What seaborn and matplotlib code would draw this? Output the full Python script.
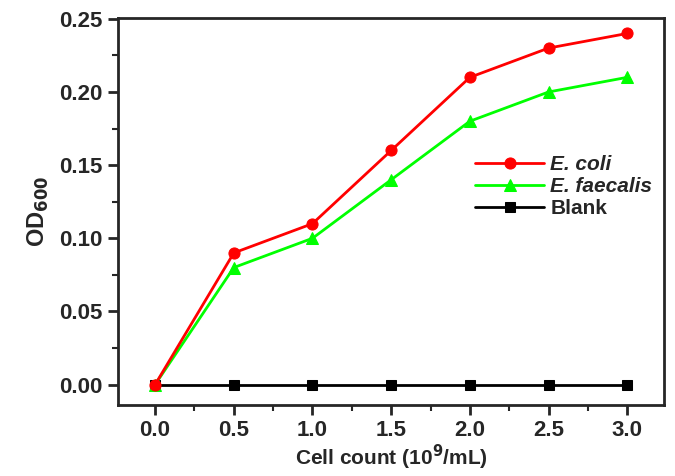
import matplotlib
matplotlib.use("Agg")
import matplotlib.pyplot as plt
import seaborn as sns
from matplotlib.ticker import MultipleLocator, FormatStrFormatter

# data
cell_count = [0.0, 0.5, 1.0, 1.5, 2.0, 2.5, 3.0]
e_coli = [0.0, 0.09, 0.11, 0.16, 0.21, 0.23, 0.24]
e_faecalis = [0.0, 0.08, 0.10, 0.14, 0.18, 0.20, 0.21]
blank = [0.0, 0.0, 0.0, 0.0, 0.0, 0.0, 0.0]

sns.set_style("ticks")
plt.rcParams['font.family'] = ['Liberation Sans', 'DejaVu Sans']
plt.rcParams['font.weight'] = 'bold'
plt.rcParams['mathtext.default'] = 'bf'

fig = plt.figure(figsize=(6.75, 4.76), dpi=100)
ax = fig.add_axes([0.175, 0.149, 0.809, 0.813])

sns.lineplot(x=cell_count, y=blank, ax=ax, color='black', marker='s', markersize=7,
             markeredgecolor='black', linewidth=2, label='Blank', zorder=2)
sns.lineplot(x=cell_count, y=e_faecalis, ax=ax, color='#00ff00', marker='^', markersize=9,
             markeredgecolor='#00ff00', linewidth=2, label='E. faecalis', zorder=3)
sns.lineplot(x=cell_count, y=e_coli, ax=ax, color='#ff0000', marker='o', markersize=8,
             markeredgecolor='#ff0000', linewidth=2, label='E. coli', zorder=4)

ax.set_xlim(-0.235, 3.235)
ax.set_ylim(-0.014, 0.2505)
ax.xaxis.set_major_locator(MultipleLocator(0.5))
ax.xaxis.set_minor_locator(MultipleLocator(0.25))
ax.yaxis.set_major_locator(MultipleLocator(0.05))
ax.yaxis.set_minor_locator(MultipleLocator(0.025))
ax.xaxis.set_major_formatter(FormatStrFormatter('%.1f'))
ax.yaxis.set_major_formatter(FormatStrFormatter('%.2f'))

for s in ax.spines.values():
    s.set_linewidth(2)
    s.set_visible(True)
ax.tick_params(which='major', length=7, width=2, labelsize=16, direction='out', pad=4)
ax.tick_params(which='minor', length=4, width=1.5, direction='out')
for lbl in ax.get_xticklabels() + ax.get_yticklabels():
    lbl.set_fontweight('bold')

ax.set_xlabel('Cell count (10$^{9}$/mL)', fontsize=15, fontweight='bold', labelpad=1)
ax.set_ylabel('OD$_{600}$', fontsize=17, fontweight='bold', labelpad=6)

handles, labels = ax.get_legend_handles_labels()
order = [2, 1, 0]
leg = ax.legend([handles[i] for i in order], [labels[i] for i in order],
                loc='upper left', bbox_to_anchor=(0.62, 0.695), frameon=False,
                handlelength=3.3, handletextpad=0.3, labelspacing=0.15,
                prop={'weight': 'bold', 'size': 15})
for t in leg.get_texts():
    if t.get_text().startswith('E.'):
        t.set_fontstyle('italic')

fig.savefig('out.png', dpi=100)
